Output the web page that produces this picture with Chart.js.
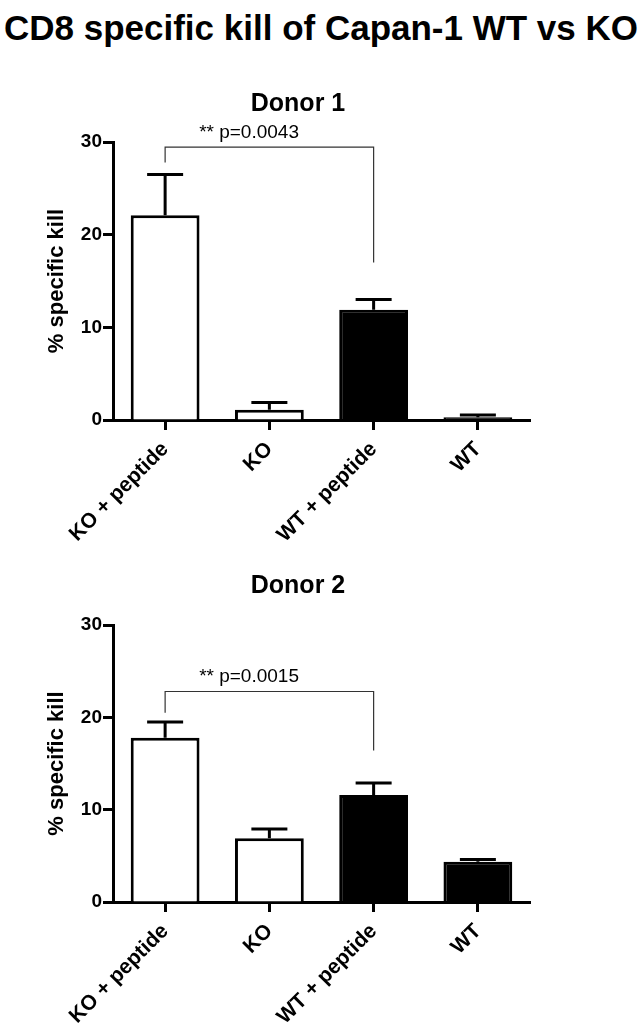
<!DOCTYPE html>
<html>
<head>
<meta charset="utf-8">
<script src="https://cdn.jsdelivr.net/npm/chart.js@4.4.1/dist/chart.umd.min.js"></script>
<style>
  html, body { margin: 0; padding: 0; background: #ffffff; }
  body { width: 642px; height: 1023px; position: relative; overflow: hidden; font-family: 'Liberation Sans', Arial, sans-serif; }
  .t { position: absolute; color: #000; font-weight: bold; white-space: nowrap; text-align: center; }
  #mainTitle { left: 0; top: 10px; width: 642px; font-size: 35px; line-height: 35px; }
  .donor { left: 0; width: 596px; font-size: 25px; line-height: 25px; }
  #d1title { top: 90px; }
  #d2title { top: 572px; }
  canvas { position: absolute; left: 0; }
  #c1wrap { position: absolute; left: 0; top: 60px; width: 596px; height: 500px; }
  #c2wrap { position: absolute; left: 0; top: 543px; width: 596px; height: 480px; }
</style>
</head>
<body>
<div id="mainTitle" class="t">CD8 specific kill of Capan-1 WT vs KO</div>
<div id="c1wrap"><canvas id="c1"></canvas></div>
<div id="c2wrap"><canvas id="c2"></canvas></div>
<div id="d1title" class="t donor">Donor 1</div>
<div id="d2title" class="t donor">Donor 2</div>
<script>
// ---- data ----
const categories = ['KO + peptide', 'KO', 'WT + peptide', 'WT'];
const donor1Values = [22.1, 1.1, 11.9, 0.3];
const donor1Errors = [4.4, 0.8, 1.1, 0.25];
const donor2Values = [17.8, 6.9, 11.6, 4.35];
const donor2Errors = [1.7, 1.0, 1.3, 0.25];
const yTickValues = [0, 10, 20, 30];
const yAxisLabel = '% specific kill';
// significance brackets: compared categories, bracket height, end heights, label
const bracketPair = [0, 2];
const donor1Bracket = [29.45, 27.8, 17.0];
const donor2Bracket = [22.8, 20.5, 16.4];
const donor1PLabel = '** p=0.0043';
const donor2PLabel = '** p=0.0015';

Chart.defaults.font.family = "'Liberation Sans', Arial, sans-serif";
Chart.defaults.color = '#000';

const errorBarPlugin = {
  id: 'errorBars',
  afterDatasetsDraw(chart, args, opts) {
    const meta = chart.getDatasetMeta(0);
    const ys = chart.scales.y;
    const vals = chart.data.datasets[0].data;
    const ctx = chart.ctx;
    ctx.save();
    ctx.strokeStyle = '#000';
    ctx.lineWidth = 3;
    meta.data.forEach((el, i) => {
      const top = ys.getPixelForValue(vals[i] + opts.errors[i]);
      const base = ys.getPixelForValue(vals[i]);
      ctx.beginPath();
      ctx.moveTo(el.x, base);
      ctx.lineTo(el.x, top);
      ctx.moveTo(el.x - 18, top);
      ctx.lineTo(el.x + 18, top);
      ctx.stroke();
    });
    ctx.restore();
  }
};

const bracketPlugin = {
  id: 'bracket',
  afterDraw(chart, args, opts) {
    const xs = chart.scales.x, ys = chart.scales.y, ctx = chart.ctx;
    const x0 = xs.getPixelForValue(opts.pair[0]);
    const x1 = xs.getPixelForValue(opts.pair[1]);
    const yTop = ys.getPixelForValue(opts.levels[0]);
    ctx.save();
    ctx.strokeStyle = '#333';
    ctx.lineWidth = 1.2;
    ctx.beginPath();
    ctx.moveTo(x0, ys.getPixelForValue(opts.levels[1]));
    ctx.lineTo(x0, yTop);
    ctx.lineTo(x1, yTop);
    ctx.lineTo(x1, ys.getPixelForValue(opts.levels[2]));
    ctx.stroke();
    ctx.fillStyle = '#000';
    ctx.font = "19px 'Liberation Sans', Arial, sans-serif";
    ctx.textAlign = 'left';
    ctx.textBaseline = 'alphabetic';
    ctx.fillText(opts.label, x0 + 34, yTop - 9);
    ctx.restore();
  }
};

function makeChart(id, values, errors, bracketLevels, pLabel, xHeight) {
  return new Chart(document.getElementById(id), {
    type: 'bar',
    data: {
      labels: categories,
      datasets: [{
        data: values,
        backgroundColor: ['#ffffff', '#ffffff', '#000000', '#000000'],
        borderColor: '#000000',
        borderWidth: 3,
        borderSkipped: 'start',
        barPercentage: 0.66,
        categoryPercentage: 1.0
      }]
    },
    options: {
      responsive: true,
      maintainAspectRatio: false,
      animation: false,
      layout: { padding: { top: 82, right: 66, left: 0, bottom: 0 } },
      plugins: {
        legend: { display: false },
        tooltip: { enabled: false },
        title: { display: false },
        errorBars: { errors: errors },
        bracket: { pair: bracketPair, levels: bracketLevels, label: pLabel }
      },
      scales: {
        x: {
          offset: true,
          grid: { display: true, offset: false, drawOnChartArea: false, drawTicks: true, tickLength: 10, tickWidth: 3, tickColor: '#000', color: '#000' },
          border: { display: true, color: '#000', width: 3 },
          ticks: { autoSkip: false, maxRotation: 45, minRotation: 45, padding: 7, color: '#000', font: { size: 21, weight: 'bold' } },
          afterFit(s) { s.height = xHeight; }
        },
        y: {
          min: 0, max: 30,
          afterBuildTicks(s) { s.ticks = yTickValues.map(v => ({ value: v })); },
          grid: { display: true, drawOnChartArea: false, drawTicks: true, tickLength: 10, tickWidth: 3, tickColor: '#000', color: '#000' },
          border: { display: true, color: '#000', width: 3 },
          ticks: { padding: 1, color: '#000', font: { size: 19, weight: 'bold' } },
          title: { display: true, text: yAxisLabel, color: '#000', font: { size: 22, weight: 'bold' }, padding: { top: 44, bottom: 0 } },
          afterFit(s) { s.width = 113; }
        }
      }
    },
    plugins: [errorBarPlugin, bracketPlugin]
  });
}

makeChart('c1', donor1Values, donor1Errors, donor1Bracket, donor1PLabel, 140);
makeChart('c2', donor2Values, donor2Errors, donor2Bracket, donor2PLabel, 121);
</script>
</body>
</html>
